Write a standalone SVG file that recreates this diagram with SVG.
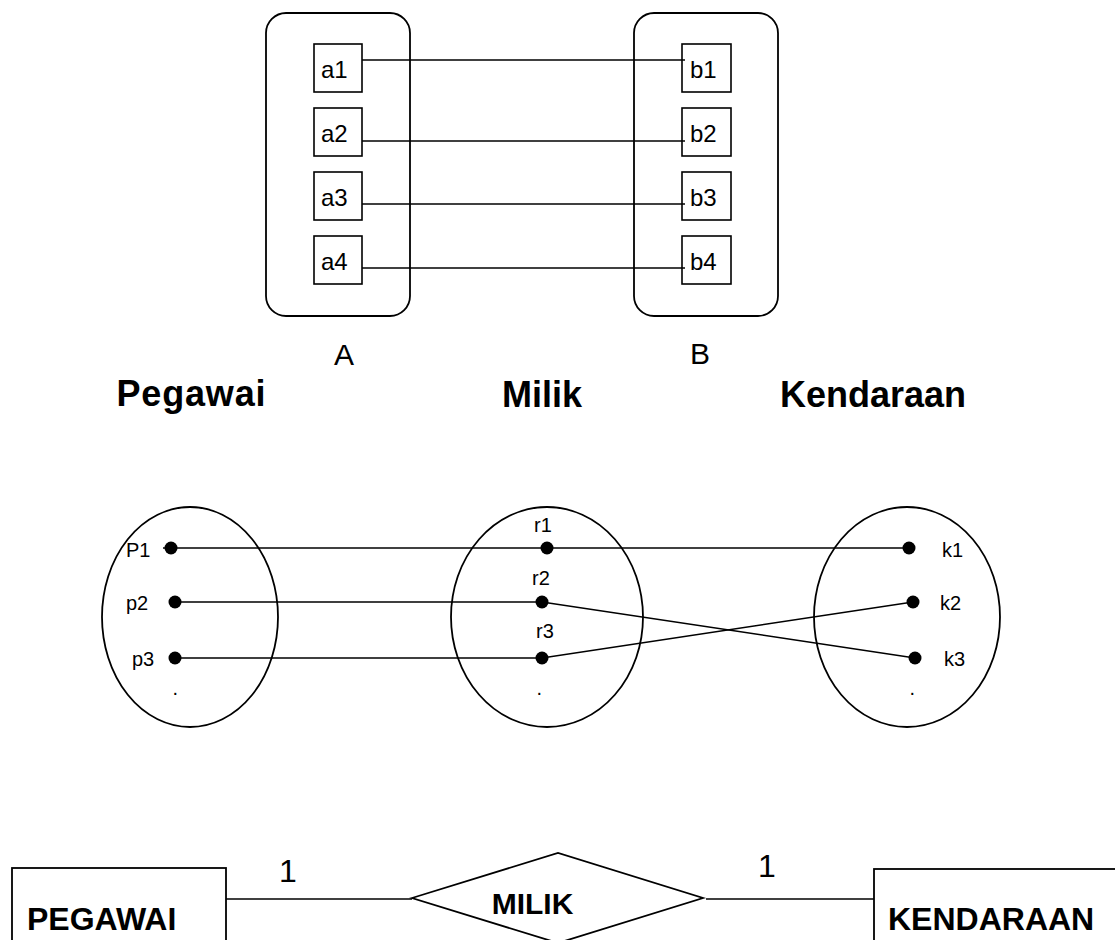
<svg xmlns="http://www.w3.org/2000/svg" width="1115" height="940" viewBox="0 0 1115 940">
  <style>
    .shape { fill: none; stroke: #000; stroke-width: 1.8; }
    .box { fill: none; stroke: #000; stroke-width: 1.6; }
    .link { fill: none; stroke: #000; stroke-width: 1.5; }
    .dot { fill: #000; }
    .lbl { font-family: "Liberation Sans", Arial, sans-serif; fill: #000; }
    .small { font-size: 24px; }
    .set { font-size: 30px; }
    .title { font-size: 36px; font-weight: bold; }
    .elem { font-size: 20px; }
    .card { font-size: 32px; }
    .er { font-size: 32px; font-weight: bold; }
    .er-rel { font-size: 30px; font-weight: bold; }
  </style>

  <rect width="1115" height="940" fill="#fff"/>

  <!-- Sets A and B -->
  <g id="setA">
    <rect class="shape" x="266" y="13" width="144" height="303" rx="20" ry="20"/>
    <text class="lbl set" x="344" y="365" text-anchor="middle">A</text>
  </g>
  <g id="setB">
    <rect class="shape" x="634" y="13" width="144" height="303" rx="20" ry="20"/>
    <text class="lbl set" x="700" y="364" text-anchor="middle">B</text>
  </g>

  <!-- one-to-one mapping lines -->
  <g id="mapping-lines">
    <line class="link" x1="362" y1="60" x2="685" y2="60"/>
    <line class="link" x1="362" y1="141" x2="685" y2="141"/>
    <line class="link" x1="362" y1="204" x2="685" y2="204"/>
    <line class="link" x1="362" y1="268" x2="685" y2="268"/>
  </g>

  <g id="a1"><rect class="box" x="314" y="44" width="48" height="48"/><text class="lbl small" x="321" y="78">a1</text></g>
  <g id="a2"><rect class="box" x="314" y="108" width="48" height="48"/><text class="lbl small" x="321" y="142">a2</text></g>
  <g id="a3"><rect class="box" x="314" y="172" width="48" height="48"/><text class="lbl small" x="321" y="206">a3</text></g>
  <g id="a4"><rect class="box" x="314" y="236" width="48" height="48"/><text class="lbl small" x="321" y="270">a4</text></g>

  <g id="b1"><rect class="box" x="682" y="44" width="49" height="48"/><text class="lbl small" x="690" y="78">b1</text></g>
  <g id="b2"><rect class="box" x="682" y="108" width="49" height="48"/><text class="lbl small" x="690" y="142">b2</text></g>
  <g id="b3"><rect class="box" x="682" y="172" width="49" height="48"/><text class="lbl small" x="690" y="206">b3</text></g>
  <g id="b4"><rect class="box" x="682" y="236" width="49" height="48"/><text class="lbl small" x="690" y="270">b4</text></g>

  <!-- Entity / relationship set headings -->
  <text class="lbl title" x="191" y="406" text-anchor="middle" textLength="149">Pegawai</text>
  <text class="lbl title" x="542" y="407" text-anchor="middle">Milik</text>
  <text class="lbl title" x="873" y="407" text-anchor="middle">Kendaraan</text>

  <!-- Set ellipses -->
  <g id="pegawai-set">
    <ellipse class="shape" cx="190" cy="617" rx="88" ry="110"/>
    <text class="lbl elem" x="126" y="557">P1</text>
    <text class="lbl elem" x="126" y="610">p2</text>
    <text class="lbl elem" x="132" y="666">p3</text>
    <text class="lbl elem" x="172.5" y="695">.</text>
  </g>
  <g id="milik-set">
    <ellipse class="shape" cx="547" cy="617" rx="96" ry="110"/>
    <text class="lbl elem" x="534" y="532">r1</text>
    <text class="lbl elem" x="532" y="585">r2</text>
    <text class="lbl elem" x="536" y="638">r3</text>
    <text class="lbl elem" x="536.5" y="695">.</text>
  </g>
  <g id="kendaraan-set">
    <ellipse class="shape" cx="907" cy="617" rx="93" ry="110"/>
    <text class="lbl elem" x="942" y="557">k1</text>
    <text class="lbl elem" x="940" y="610">k2</text>
    <text class="lbl elem" x="944" y="666">k3</text>
    <text class="lbl elem" x="909.5" y="695">.</text>
  </g>

  <!-- element pairings -->
  <g id="pairings">
    <line class="link" x1="163" y1="548" x2="909" y2="548"/>
    <polyline class="link" points="175,602 542,602 915,658"/>
    <polyline class="link" points="175,658 542,658 913,602"/>
  </g>
  <g id="element-dots">
    <circle class="dot" cx="171" cy="548" r="6.5"/>
    <circle class="dot" cx="175" cy="602" r="6.5"/>
    <circle class="dot" cx="175" cy="658" r="6.5"/>
    <circle class="dot" cx="547" cy="548" r="6.5"/>
    <circle class="dot" cx="542" cy="602" r="6.5"/>
    <circle class="dot" cx="542" cy="658" r="6.5"/>
    <circle class="dot" cx="909" cy="548" r="6.5"/>
    <circle class="dot" cx="913" cy="602" r="6.5"/>
    <circle class="dot" cx="915" cy="658" r="6.5"/>
  </g>

  <!-- ER diagram -->
  <g id="er-connectors">
    <line class="link" x1="226" y1="899" x2="412" y2="899"/>
    <line class="link" x1="706" y1="899" x2="874" y2="899"/>
    <text class="lbl card" x="279" y="882">1</text>
    <text class="lbl card" x="758" y="877">1</text>
  </g>
  <g id="PEGAWAI">
    <rect class="shape" x="12" y="868" width="214" height="100"/>
    <text class="lbl er" x="27" y="930">PEGAWAI</text>
  </g>
  <g id="MILIK">
    <polygon class="shape" points="412,898 558,853 703,898 558,943"/>
    <text class="lbl er-rel" x="532.5" y="914" text-anchor="middle">MILIK</text>
  </g>
  <g id="KENDARAAN">
    <rect class="shape" x="874" y="869" width="260" height="100"/>
    <text class="lbl er" x="888" y="930">KENDARAAN</text>
  </g>
</svg>
